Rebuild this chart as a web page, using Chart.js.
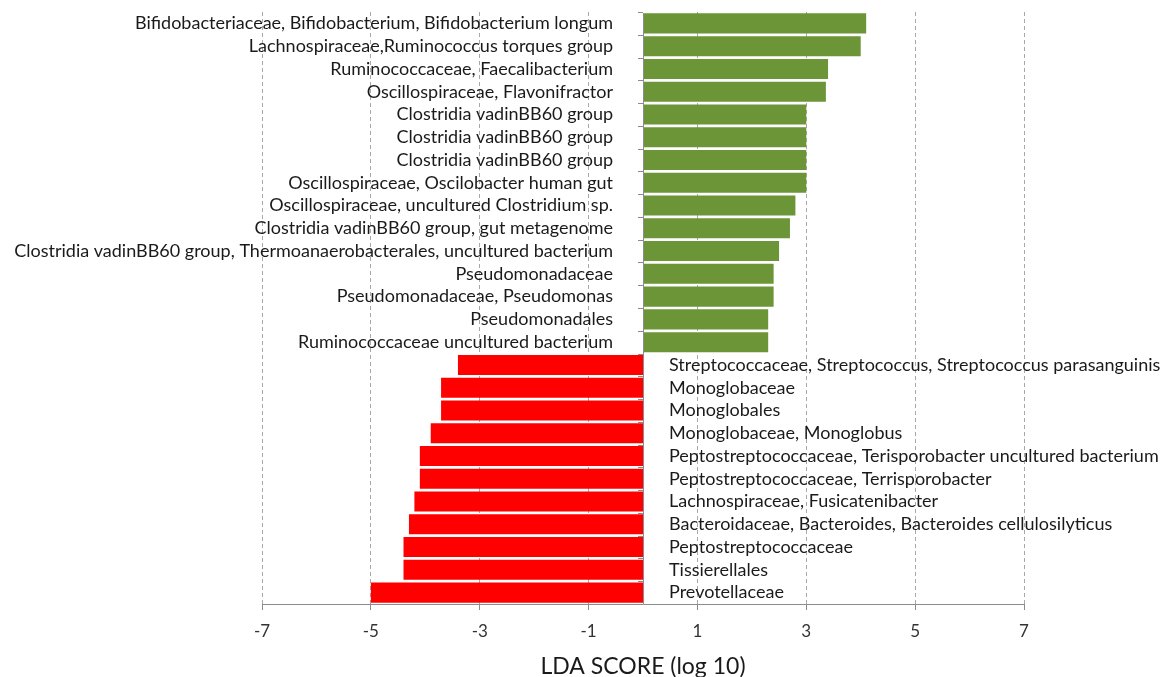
<!DOCTYPE html>
<html><head><meta charset="utf-8">
<script src="https://cdn.jsdelivr.net/npm/chart.js@4/dist/chart.umd.min.js"></script>
<style>html,body{margin:0;padding:0;background:#fff}#wrap{width:1166px;height:677px}</style>
</head><body><div id="wrap"><canvas id="c" width="1166" height="677"></canvas></div>
<script>
const categories = [
  "Bifidobacteriaceae, Bifidobacterium, Bifidobacterium longum",
  "Lachnospiraceae,Ruminococcus torques group",
  "Ruminococcaceae, Faecalibacterium",
  "Oscillospiraceae, Flavonifractor",
  "Clostridia vadinBB60 group",
  "Clostridia vadinBB60 group",
  "Clostridia vadinBB60 group",
  "Oscillospiraceae, Oscilobacter human gut",
  "Oscillospiraceae, uncultured Clostridium sp.",
  "Clostridia vadinBB60 group, gut metagenome",
  "Clostridia vadinBB60 group, Thermoanaerobacterales, uncultured bacterium",
  "Pseudomonadaceae",
  "Pseudomonadaceae, Pseudomonas",
  "Pseudomonadales",
  "Ruminococcaceae uncultured bacterium",
  "Streptococcaceae, Streptococcus, Streptococcus parasanguinis",
  "Monoglobaceae",
  "Monoglobales",
  "Monoglobaceae, Monoglobus",
  "Peptostreptococcaceae, Terisporobacter uncultured bacterium",
  "Peptostreptococcaceae, Terrisporobacter",
  "Lachnospiraceae, Fusicatenibacter",
  "Bacteroidaceae, Bacteroides, Bacteroides cellulosilyticus",
  "Peptostreptococcaceae",
  "Tissierellales",
  "Prevotellaceae"
];
const ldaScores = [4.1, 4.0, 3.4, 3.36, 3.0, 3.0, 3.0, 3.0, 2.8, 2.7, 2.5, 2.4, 2.4, 2.3, 2.3,
  -3.4, -3.71, -3.71, -3.9, -4.1, -4.1, -4.2, -4.3, -4.4, -4.4, -5.0];
const xTickMin = -7, xTickMax = 7, xTickStep = 2;
const axisTitle = "LDA SCORE (log 10)";

const GREEN = '#6B9536', RED = '#FF0000';
const FONT = 'Lato, "Open Sans", sans-serif';

const labelPlugin = {
  id: 'barLabels',
  afterDatasetsDraw(chart) {
    const ctx = chart.ctx, xs = chart.scales.x, ys = chart.scales.y;
    const x0 = xs.getPixelForValue(0);
    ctx.save();
    ctx.strokeStyle = '#8c8c8c'; ctx.lineWidth = 1;
    ctx.beginPath();
    ctx.moveTo(Math.round(x0)+0.5, chart.chartArea.top + 3);
    ctx.lineTo(Math.round(x0)+0.5, chart.chartArea.bottom);
    ctx.stroke();
    const n = categories.length;
    const step = (chart.chartArea.bottom - chart.chartArea.top) / n;
    for (let i = 0; i <= n; i++) {
      const y = Math.round(chart.chartArea.top + i*step)+0.5;
      ctx.beginPath(); ctx.moveTo(Math.round(x0)-5, y); ctx.lineTo(Math.round(x0), y); ctx.stroke();
    }
    ctx.font = '18px ' + FONT;
    ctx.fillStyle = '#1a1a1a';
    ctx.textBaseline = 'middle';
    categories.forEach((c, i) => {
      const y = ys.getPixelForValue(i);
      if (ldaScores[i] >= 0) { ctx.textAlign = 'right'; ctx.fillText(c, x0 - 30, y); }
      else { ctx.textAlign = 'left'; ctx.fillText(c, x0 + 26, y); }
    });
    ctx.restore();
  }
};

new Chart(document.getElementById('c'), {
  type: 'bar',
  data: {
    labels: categories,
    datasets: [{
      data: ldaScores,
      backgroundColor: ldaScores.map(v => v >= 0 ? GREEN : RED),
      borderWidth: 0,
      categoryPercentage: 1.0,
      barPercentage: 0.88
    }]
  },
  options: {
    indexAxis: 'y',
    responsive: false,
    animation: false,
    layout: { padding: { left: 262, right: 142, top: 12, bottom: -3 } },
    plugins: { legend: { display: false }, tooltip: { enabled: false } },
    scales: {
      x: {
        min: xTickMin, max: xTickMax,
        ticks: { stepSize: xTickStep, color: '#333', font: { family: FONT, size: 17 }, padding: 11 },
        grid: { color: '#a8a8a8', tickLength: 6, tickBorderDash: [], tickColor: '#8c8c8c' },
        border: { display: true, color: '#8c8c8c', dash: [4, 3] },
        title: { display: true, text: axisTitle, color: '#1a1a1a', font: { family: FONT, size: 23 }, padding: { top: 0, bottom: 0 } }
      },
      y: { display: false, offset: true, grid: { display: false } }
    }
  },
  plugins: [labelPlugin]
});
</script></body></html>
